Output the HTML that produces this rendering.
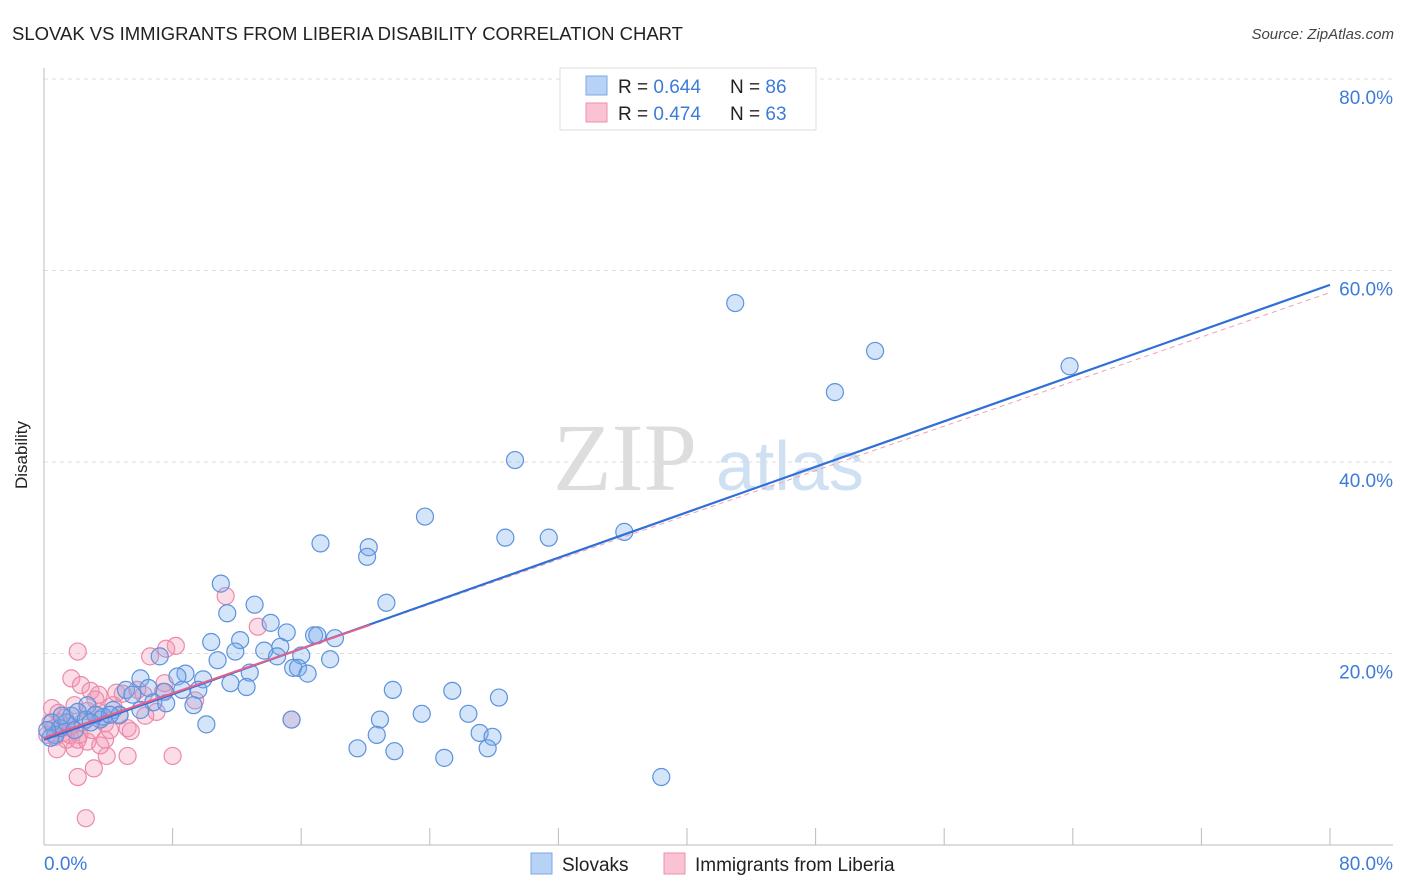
<!DOCTYPE html>
<html><head><meta charset="utf-8"><style>
body{margin:0;background:#fff;font-family:"Liberation Sans",sans-serif}
svg{display:block}
</style></head><body>
<svg id="chart" width="1406" height="892" xmlns="http://www.w3.org/2000/svg" font-family="Liberation Sans, sans-serif">
<text x="12" y="40" font-size="18" fill="#222" textLength="671" lengthAdjust="spacingAndGlyphs">SLOVAK VS IMMIGRANTS FROM LIBERIA DISABILITY CORRELATION CHART</text>
<text x="1394" y="39" font-size="15" fill="#444" font-style="italic" text-anchor="end">Source: ZipAtlas.com</text>
<g id="grid"></g>
<g>
<text x="553" y="490" font-family="Liberation Serif, serif" font-size="96" fill="#ddd">ZIP</text>
<text x="716" y="490" font-size="70" fill="#cfe0f3">atlas</text>
</g>
<g id="pts"></g>
<g id="lines"></g>
<text x="27" y="455" font-size="17" fill="#222" text-anchor="middle" transform="rotate(-90 27 455)">Disability</text>
<g>
<rect x="560" y="68" width="256" height="62" fill="#fff" stroke="#ddd"/>
<rect x="586" y="76" width="21" height="19" fill="#b7d2f5" stroke="#7aa8e6"/>
<rect x="586" y="103" width="21" height="19" fill="#f9c3d3" stroke="#ee8fab"/>
<text x="618" y="93" font-size="19" fill="#222">R = <tspan fill="#3d7bd9">0.644</tspan></text>
<text x="730" y="93" font-size="19" fill="#222">N = <tspan fill="#3d7bd9">86</tspan></text>
<text x="618" y="120" font-size="19" fill="#222">R = <tspan fill="#3d7bd9"> 0.474</tspan></text>
<text x="730" y="120" font-size="19" fill="#222">N = <tspan fill="#3d7bd9">63</tspan></text>
</g>
<g>
<rect x="531" y="853" width="21" height="21" fill="#b7d2f5" stroke="#7aa8e6"/>
<text x="562" y="871" font-size="19" fill="#222">Slovaks</text>
<rect x="664" y="853" width="21" height="21" fill="#f9c3d3" stroke="#ee8fab"/>
<text x="695" y="871" font-size="19" fill="#222">Immigrants from Liberia</text>
</g>
</svg>
<script>
const yTicks=[0,20,40,60,80];
const xTickCount=10;
const xLabels=["0.0%","80.0%"];
const slovakX=[43.0,51.7,49.2,63.8,29.3,23.7,28.7,31.4,36.1,17.2,20.2,20.1,11.0,21.3,13.1,11.4,14.1,15.1,16.8,17.0,18.1,10.4,12.2,14.7,11.9,13.7,16.0,14.5,7.2,10.8,17.8,15.5,15.8,16.4,12.8,8.8,8.3,6.0,9.9,6.5,11.6,7.5,8.6,9.6,12.6,5.1,21.7,25.4,28.3,5.5,6.8,7.6,9.3,2.7,4.3,23.5,26.4,4.7,3.7,1.7,2.1,20.9,10.1,3.5,27.1,20.7,27.9,19.5,21.8,27.6,24.9,38.4,0.5,0.7,1.0,1.4,2.6,3.2,15.4,0.4,0.2,1.1,1.9,4.1,6.0,2.9];
const slovakY=[56.6,51.6,47.3,50.0,40.2,34.3,32.1,32.1,32.7,31.5,31.1,30.1,27.3,25.3,25.1,24.2,23.2,22.2,21.9,21.9,21.6,21.2,21.4,20.7,20.2,20.3,19.8,19.7,19.7,19.3,19.4,18.5,18.5,17.9,18.0,17.9,17.6,17.4,17.3,16.4,16.9,16.0,16.2,16.2,16.5,16.2,16.2,16.1,15.4,15.7,14.9,14.8,14.6,14.6,14.1,13.7,13.7,13.6,13.4,13.5,13.9,13.1,12.6,13.1,11.7,11.5,11.3,10.1,9.8,10.1,9.1,7.1,12.8,11.5,12.2,12.8,13.1,13.6,13.1,11.2,12.0,13.5,12.0,13.6,14.1,12.8];
const liberiaX=[2.6,2.1,3.1,5.2,8.0,3.9,1.9,11.3,13.3,8.2,7.6,6.6,2.1,1.7,2.3,2.9,3.4,4.5,4.9,7.5,7.4,0.5,0.9,1.3,1.9,2.7,3.4,3.8,5.2,7.0,6.3,5.4,3.8,2.7,1.4,0.7,0.2,1.1,1.7,2.2,3.0,0.4,1.0,1.6,2.1,2.4,15.4,6.2,4.3,0.6,1.2,3.2,4.1,4.7,3.5,0.8,5.8,9.4];
const liberiaY=[2.8,7.1,8.0,9.3,9.3,9.3,10.1,26.0,22.8,20.8,20.5,19.7,20.2,17.4,16.7,16.1,15.7,15.9,15.8,16.9,16.0,14.3,13.8,13.3,14.6,14.0,13.9,12.7,12.2,13.9,13.5,11.9,11.0,10.8,11.0,11.3,11.5,12.2,12.4,11.5,12.0,12.8,12.8,11.5,11.0,12.8,13.1,15.7,14.6,12.2,11.7,15.2,12.0,13.5,10.4,10.0,16.2,15.1];
const slovakTrend=[11.0,58.5];
const liberiaTrend=[11.2,57.7];
const liberiaSolidEnd=20.3;

const X0=44,X1=1330,Y0=845,Y1=79;
const sx=v=>X0+(v/80)*(X1-X0);
const sy=v=>Y0-(v/80)*(Y0-Y1);
const NS="http://www.w3.org/2000/svg";
function mk(tag,attrs,parent){const e=document.createElementNS(NS,tag);for(const k in attrs)e.setAttribute(k,attrs[k]);parent.appendChild(e);return e;}
const grid=document.getElementById('grid');
yTicks.forEach(t=>{
  if(t>0){const l=mk('line',{x1:X0,x2:1393,y1:sy(t),y2:sy(t),stroke:'#ddd','stroke-dasharray':'4,4'},grid);
  
  
  const tx=mk('text',{x:1393,y:sy(t)+25,'font-size':19,fill:'#3d7bd9','text-anchor':'end'},grid);tx.textContent=t.toFixed(1)+'%';
  
  }
});
const ax=mk('line',{x1:X0,x2:X0,y1:68,y2:Y0,stroke:'#bbb'},grid);


const bx=mk('line',{x1:X0,x2:1393,y1:Y0,y2:Y0,stroke:'#bbb'},grid);


for(let i=1;i<=xTickCount;i++){const v=i*8;const t=mk('line',{x1:sx(v),x2:sx(v),y1:Y0,y2:Y0-17,stroke:'#bbb'},grid);
  
  }
const xl0=mk('text',{x:44,y:870,'font-size':19,fill:'#3d7bd9'},grid);xl0.textContent=xLabels[0];


const xl1=mk('text',{x:1393,y:870,'font-size':19,fill:'#3d7bd9','text-anchor':'end'},grid);xl1.textContent=xLabels[1];


const pts=document.getElementById('pts');
liberiaX.forEach((x,i)=>{const c=mk('circle',{cx:sx(x),cy:sy(liberiaY[i]),r:8.5,fill:'rgba(244,150,180,0.32)',stroke:'#ec8aa8','stroke-width':1.2},pts);
  
  });
slovakX.forEach((x,i)=>{const c=mk('circle',{cx:sx(x),cy:sy(slovakY[i]),r:8.5,fill:'rgba(120,170,235,0.32)',stroke:'#5d92dc','stroke-width':1.2},pts);
  
  });
const lines=document.getElementById('lines');
const ld=mk('line',{x1:sx(liberiaSolidEnd),y1:sy(liberiaTrend[0]+(liberiaTrend[1]-liberiaTrend[0])*liberiaSolidEnd/80),x2:sx(80),y2:sy(liberiaTrend[1]),stroke:'#f0a0b8','stroke-width':1,'stroke-dasharray':'5,4'},lines);


const lb=mk('line',{x1:sx(0),y1:sy(slovakTrend[0]),x2:sx(80),y2:sy(slovakTrend[1]),stroke:'#2f6fd6','stroke-width':2.2},lines);


const lp=mk('line',{x1:sx(0),y1:sy(liberiaTrend[0]),x2:sx(liberiaSolidEnd),y2:sy(liberiaTrend[0]+(liberiaTrend[1]-liberiaTrend[0])*liberiaSolidEnd/80),stroke:'#e8608a','stroke-width':2},lines);


</script>
</body></html>
